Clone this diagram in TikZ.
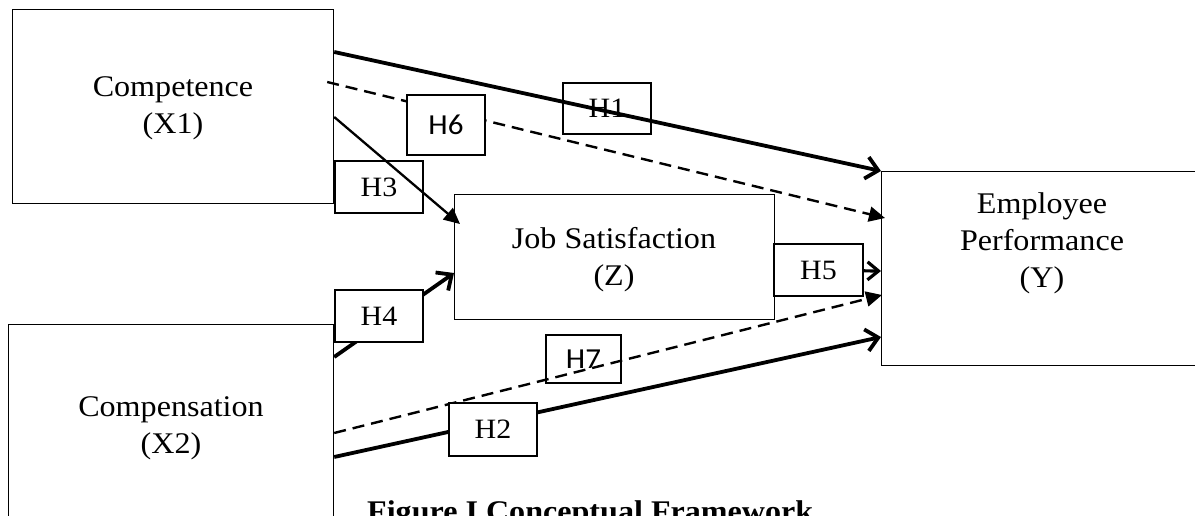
\documentclass[tikz,border=0pt]{standalone}
\usepackage{fontspec}
\setmainfont{Liberation Serif}[FakeStretch=1.07]
\newfontfamily\hsans{Carlito}[FakeStretch=1.07]
\usetikzlibrary{arrows.meta}
\begin{document}
\begin{tikzpicture}[x=1pt,y=-1pt,
  box/.style={draw=black,line width=1.2pt,inner sep=0pt,anchor=north west},
  hyp/.style={draw=black,line width=1.2pt,inner sep=0pt,font=\fontsize{28}{30}\selectfont},
  hypsans/.style={hyp,font=\hsans\fontsize{29}{30}\selectfont},
  whitefill/.style={fill=white},
  lbl/.style={align=center,inner sep=0pt,font=\fontsize{30}{37}\selectfont},
  solidarrow/.style={line width=3.8pt,-{Straight Barb[length=12pt,width=22pt]}},
  midarrow/.style={line width=3.2pt,-{Straight Barb[length=11pt,width=18pt]}},
  thinarrow/.style={line width=2.3pt,-{Triangle[length=16pt,width=15pt]}},
  dasharrow/.style={line width=2.4pt,dash pattern=on 12pt off 7pt,-{Triangle[length=16pt,width=15pt]}}
]
\fill[white] (0,0) rectangle (1195,516);
\useasboundingbox (0,0) rectangle (1195,516);

% main boxes
\node[box,minimum width=321pt,minimum height=194pt] (X1) at (12,9) {};
\node[box,minimum width=325pt,minimum height=230pt] (X2) at (8,324) {};
\node[box,minimum width=320pt,minimum height=125pt] (Z) at (454,194) {};
\node[box,minimum width=322pt,minimum height=194pt] (Y) at (881,171) {};

\node[lbl] (X1t) at (173,108) {Competence\\(X1)};
\node[lbl] (X2t) at (171,428) {Compensation\\(X2)};
\node[lbl] (Zt) at (614,260) {Job Satisfaction\\(Z)};
\node[lbl] (Yt) at (1042,243) {Employee\\Performance\\(Y)};

% hypothesis boxes under the lines
\node[hyp,minimum width=88pt,minimum height=51pt] (h1) at (607,108.5) {H1};
\node[hyp,minimum width=88pt,minimum height=52pt] (h3) at (379,187) {H3};
\node[hypsans,minimum width=75pt,minimum height=48pt] (h7) at (583.5,359) {H7};

% connectors
\draw[solidarrow] ([yshift=-43pt]X1.north east) -- (Y.north west);
\draw[dasharrow] ([xshift=-7pt,yshift=-73pt]X1.north east) -- ([xshift=4pt,yshift=-47pt]Y.north west);
\draw[thinarrow] ([yshift=-108pt]X1.north east) -- ([xshift=6pt,yshift=-30pt]Z.north west);
\draw[solidarrow] ([yshift=-33pt]X2.north east) -- ([yshift=-79pt]Z.north west);
\draw[dasharrow] ([yshift=-109pt]X2.north east) -- ([xshift=1pt,yshift=-124pt]Y.north west);
\draw[solidarrow] ([yshift=-133pt]X2.north east) -- ([yshift=-166pt]Y.north west);
\draw[midarrow] ([yshift=-76pt]Z.north east) -- ([yshift=-100pt]Y.north west);

% hypothesis boxes over the lines
\node[hypsans,whitefill,minimum width=78pt,minimum height=60pt] (h6) at (446,125) {H6};
\node[hyp,whitefill,minimum width=88pt,minimum height=52pt] (h4) at (379,316) {H4};
\node[hyp,whitefill,minimum width=88pt,minimum height=53pt] (h2) at (493,429.5) {H2};
\node[hyp,whitefill,minimum width=89pt,minimum height=52pt] (h5) at (818.5,270) {H5};

% caption
\node[anchor=base west,inner sep=0pt,font=\bfseries\fontsize{30}{32}\selectfont] (cap) at (367,521) {Figure I Conceptual Framework};
\end{tikzpicture}
\end{document}
